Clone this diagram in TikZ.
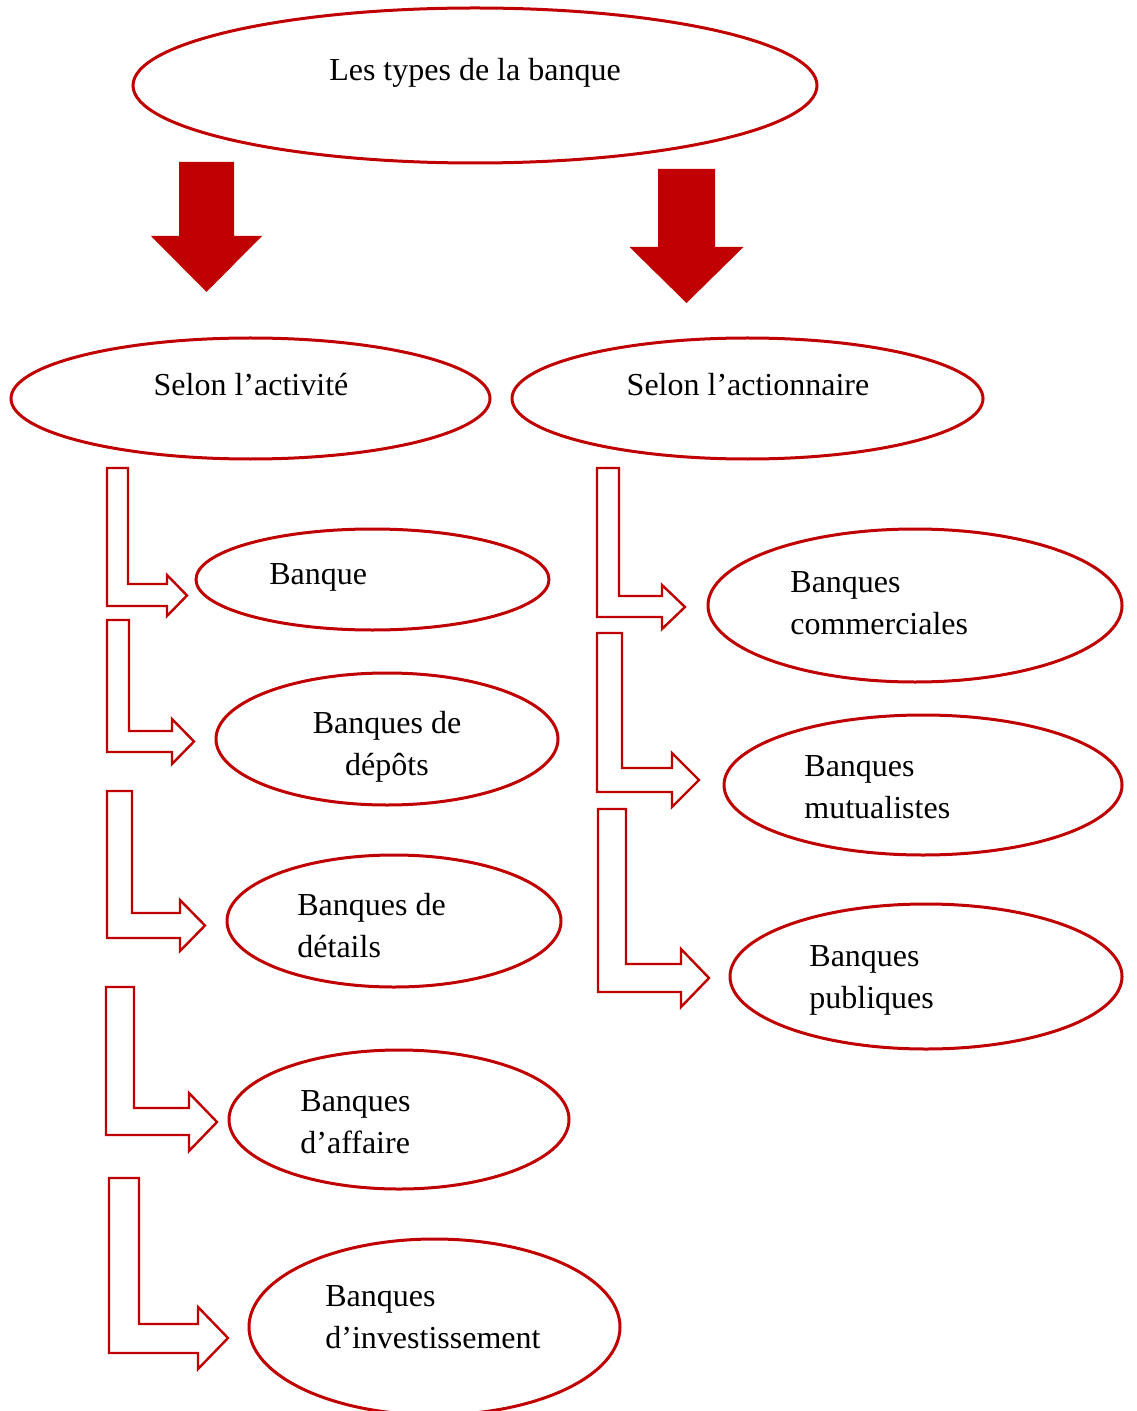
\documentclass[tikz,border=0pt]{standalone}
\usepackage{fontspec}
\setmainfont{Liberation Serif}
\usetikzlibrary{shapes.geometric}
\definecolor{bankRed}{HTML}{C00000}
\newcommand{\bankLine}[0]{1.5pt}
\newcommand{\bentArrow}[9]{%
  \draw[bent arrow] (#1,#3) -- (#2,#3) -- (#2,#4) -- (#6,#4) -- (#6,#7)
    -- (#9,{(#7+#8)/2}) -- (#6,#8) -- (#6,#5) -- (#1,#5) -- cycle;}
\newcommand{\downArrow}[6]{%
  \fill[bankRed] ({#1-#2},#3) -- ({#1+#2},#3) -- ({#1+#2},#4) -- ({#1+#5},#4)
    -- (#1,#6) -- ({#1-#5},#4) -- ({#1-#2},#4) -- cycle;}

\begin{document}
\begin{tikzpicture}[x=0.5pt, y=-0.5pt]
  \tikzset{bank/.style={ellipse, draw=bankRed, line width=\bankLine, inner sep=0pt},
           txt/.style={inner sep=0pt, font=\fontsize{16}{21}\selectfont},
           bent arrow/.style={draw=bankRed, line width=1.2pt, fill=white}}
  \useasboundingbox (0,0) rectangle (1136,1411);
  \clip (0,0) rectangle (1136,1411);
  \node[bank, minimum width=342pt, minimum height=77.5pt] (types) at (475,85.5) {};
  \node[txt, anchor=base] (types-t) at (475,81) {Les types de la banque};
  \downArrow{206.5}{27.5}{162}{236}{55.5}{292}
  \downArrow{686.5}{28.5}{169}{247}{57}{303}
  \node[bank, minimum width=239.5pt, minimum height=60.5pt] (activite) at (250.5,398.5) {};
  \node[txt, anchor=base] (activite-t) at (251,396) {Selon l’activité};
  \node[bank, minimum width=235.5pt, minimum height=60.5pt] (actionnaire) at (747.5,398.5) {};
  \node[txt, anchor=base] (actionnaire-t) at (748,396) {Selon l’actionnaire};
  \bentArrow{107}{128}{468}{584}{606}{167}{575}{616}{187}
  \bentArrow{107}{129}{620}{731}{752}{172}{719}{764}{194}
  \bentArrow{107}{132}{791}{913}{938}{180}{900}{951}{205}
  \bentArrow{106}{134}{987}{1108}{1135}{189}{1093}{1151}{217}
  \bentArrow{109}{139}{1178}{1324}{1353}{198}{1307}{1369}{228}
  \bentArrow{597}{619}{468}{596}{617}{662}{585}{629}{685}
  \bentArrow{597}{622}{633}{768}{792}{672}{753}{807}{699}
  \bentArrow{598}{626}{809}{964}{992}{681}{949}{1007}{709}
  \node[bank, minimum width=176.5pt, minimum height=50.5pt] (banque) at (372.5,579.5) {};
  \node[txt, anchor=base west] (banque-t) at (269,584) {Banque};
  \node[bank, minimum width=171pt, minimum height=66pt] (depots) at (387,739) {};
  \node[txt, anchor=base, align=center] (depots-t) at (387,775) {Banques de\\dépôts};
  \node[bank, minimum width=167pt, minimum height=66pt] (details) at (394,921) {};
  \node[txt, anchor=base west, align=left] (details-t) at (297,957) {Banques de\\détails};
  \node[bank, minimum width=170pt, minimum height=69.5pt] (affaire) at (399,1119.5) {};
  \node[txt, anchor=base west, align=left] (affaire-t) at (300,1153) {Banques\\d’affaire};
  \node[bank, minimum width=185.5pt, minimum height=88pt] (invest) at (434.5,1327) {};
  \node[txt, anchor=base west, align=left] (invest-t) at (325,1348) {Banques\\d’investissement};
  \node[bank, minimum width=207pt, minimum height=76.5pt] (commerciales) at (915,605.5) {};
  \node[txt, anchor=base west, align=left] (commerciales-t) at (790,634) {Banques\\commerciales};
  \node[bank, minimum width=199pt, minimum height=70pt] (mutualistes) at (923,785) {};
  \node[txt, anchor=base west, align=left] (mutualistes-t) at (804,818) {Banques\\mutualistes};
  \node[bank, minimum width=196pt, minimum height=72.5pt] (publiques) at (926,976.5) {};
  \node[txt, anchor=base west, align=left] (publiques-t) at (809,1008) {Banques\\publiques};
\end{tikzpicture}
\end{document}
